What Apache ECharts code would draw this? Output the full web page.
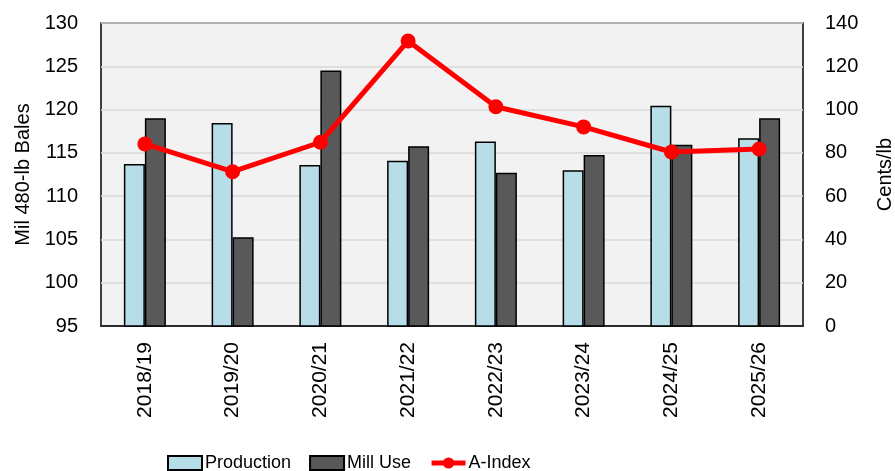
<!DOCTYPE html>
<html>
<head>
<meta charset="utf-8">
<script src="https://cdn.jsdelivr.net/npm/echarts@6/dist/echarts.min.js"></script>
<style>
  html, body { margin: 0; padding: 0; background: #fff; }
  #chart { width: 895px; height: 471px; }
</style>
</head>
<body>
<div id="chart"></div>
<script>
// marketing years
const years = ['2018/19', '2019/20', '2020/21', '2021/22', '2022/23', '2023/24', '2024/25', '2025/26'];
// million 480-lb bales
const production = [113.7, 118.45, 113.6, 114.1, 116.3, 113.0, 120.45, 116.7];
const millUse = [119.0, 105.25, 124.5, 115.75, 112.7, 114.75, 115.95, 119.0];
// cents per lb
const aIndex = [84.1, 71.3, 84.9, 131.7, 101.3, 92.0, 80.4, 81.8];

const font = 'Liberation Sans, Arial, sans-serif';

const chart = echarts.init(document.getElementById('chart'));
chart.setOption({
  animation: false,
  textStyle: { fontFamily: font, color: '#000' },
  grid: {
    left: 101, right: 92, top: 23, bottom: 145,
    outerBoundsMode: 'none',
    containLabel: false,
    show: true, backgroundColor: '#f2f2f2', borderColor: '#000', borderWidth: 1.5
  },
  legend: {
    top: 449,
    left: 162,
    itemWidth: 34,
    itemHeight: 14,
    itemGap: 18,
    textStyle: { fontSize: 18, color: '#000', padding: [0, 0, 0, -2] },
    data: [
      { name: 'Production', icon: 'rect' },
      { name: 'Mill Use', icon: 'rect' },
      { name: 'A-Index', lineStyle: { width: 5 } }
    ]
  },
  xAxis: {
    type: 'category',
    data: years,
    axisLine: { show: true, lineStyle: { color: '#000', width: 1.5 } },
    axisTick: { show: false },
    axisLabel: { rotate: 90, fontSize: 21, color: '#000', margin: 16 }
  },
  yAxis: [
    {
      type: 'value',
      min: 95, max: 130, interval: 5,
      name: 'Mil 480-lb Bales',
      nameLocation: 'middle',
      nameGap: 66,
      nameTextStyle: { fontSize: 20, color: '#000' },
      axisLine: { show: false },
      axisTick: { show: false },
      axisLabel: { fontSize: 20, color: '#000', margin: 23 },
      splitLine: { lineStyle: { color: '#d9d9d9', width: 1.5 } }
    },
    {
      type: 'value',
      min: 0, max: 140, interval: 20,
      name: 'Cents/lb',
      nameLocation: 'middle',
      nameGap: 72,
      nameRotate: 90,
      nameTextStyle: { fontSize: 20, color: '#000' },
      axisLine: { show: false },
      axisTick: { show: false },
      axisLabel: { fontSize: 20, color: '#000', margin: 22 },
      splitLine: { show: false }
    }
  ],
  series: [
    {
      name: 'Production',
      type: 'bar',
      data: production,
      barWidth: 21,
      barGap: '0%',
      itemStyle: { color: '#b7dde8', borderColor: '#000', borderWidth: 1.5 }
    },
    {
      name: 'Mill Use',
      type: 'bar',
      data: millUse,
      barWidth: 21,
      itemStyle: { color: '#595959', borderColor: '#000', borderWidth: 1.5 }
    },
    {
      name: 'A-Index',
      type: 'line',
      yAxisIndex: 1,
      data: aIndex,
      symbol: 'circle',
      symbolSize: 15,
      lineStyle: { color: '#ff0000', width: 5 },
      itemStyle: { color: '#ff0000' },
      z: 5
    }
  ]
});
</script>
</body>
</html>
